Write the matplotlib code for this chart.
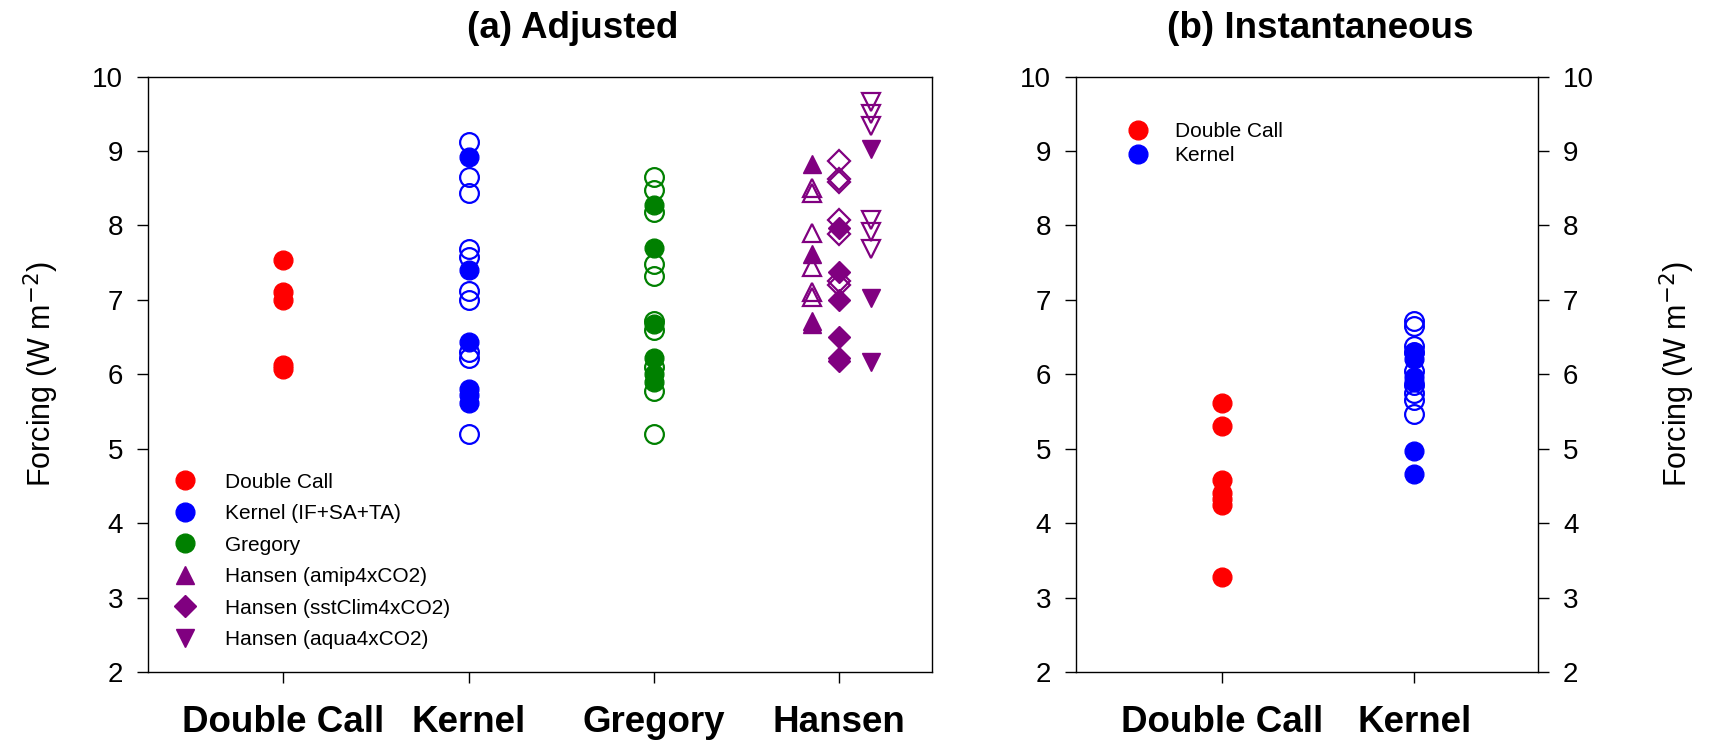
import matplotlib
matplotlib.use("Agg")
import matplotlib.pyplot as plt
from matplotlib.lines import Line2D
from matplotlib import font_manager

# forcing values (W m-2); filled and open markers kept apart
dc_adj = [7.53, 7.10, 7.00, 6.12, 6.07]

kernel_filled = [8.92, 7.40, 6.43, 5.80, 5.72, 5.62]
kernel_open = [9.12, 8.65, 8.43, 7.69, 7.58, 7.12, 7.00, 6.30, 6.22, 5.20]

gregory_filled = [8.28, 7.70, 6.67, 6.22, 6.00, 5.90]
gregory_open = [8.65, 8.48, 8.18, 7.48, 7.32, 6.72, 6.60, 6.10, 5.78, 5.20]

amip_filled = [8.83, 7.62, 6.72, 6.67]
amip_open = [8.50, 8.43, 7.90, 7.44, 7.10, 7.04]

sstclim_filled = [7.97, 7.37, 7.00, 6.50, 6.22, 6.18]
sstclim_open = [8.86, 8.62, 8.59, 8.07, 7.88, 7.25, 7.20]

aqua_filled = [9.03, 7.02, 6.17]
aqua_open = [9.66, 9.50, 9.34, 8.07, 7.91, 7.68]

dc_inst = [5.61, 5.30, 4.58, 4.40, 4.32, 4.25, 3.28]
kernel_inst_filled = [6.28, 6.20, 5.97, 5.90, 4.97, 4.66]
kernel_inst_open = [6.72, 6.65, 6.38, 6.30, 6.05, 5.85, 5.75, 5.65, 5.47]

cats_a = ["Double Call", "Kernel", "Gregory", "Hansen"]
cats_b = ["Double Call", "Kernel"]

RED, BLUE, GREEN, PURPLE = "#ff0000", "#0000ff", "#008000", "#800080"

plt.rcParams['font.family'] = ['Liberation Sans', 'DejaVu Sans']
avail = {f.name for f in font_manager.fontManager.ttflist}
if 'Liberation Sans Narrow' in avail:
    bold_fam, bsize = ['Liberation Sans Narrow', 'Liberation Sans'], 30
else:
    bold_fam, bsize = ['Liberation Sans'], 26.5

fig = plt.figure(figsize=(17.17, 7.42), dpi=100)
ax1 = fig.add_axes([0.0862, 0.0943, 0.4566, 0.8025])
ax2 = fig.add_axes([0.6267, 0.0943, 0.2690, 0.8025])

MS = 13.5


def pts(ax, x, ys, marker, color, filled, ms):
    if filled:
        ax.plot([x] * len(ys), ys, linestyle='none', marker=marker, ms=ms,
                mfc=color, mec=color, mew=1.0)
    else:
        ax.plot([x] * len(ys), ys, linestyle='none', marker=marker, ms=ms,
                mfc='none', mec=color, mew=1.6)


# panel a
pts(ax1, 1, dc_adj, 'o', RED, True, MS)
pts(ax1, 2, kernel_open, 'o', BLUE, False, MS)
pts(ax1, 2, kernel_filled, 'o', BLUE, True, MS)
pts(ax1, 3, gregory_open, 'o', GREEN, False, MS)
pts(ax1, 3, gregory_filled, 'o', GREEN, True, MS)
pts(ax1, 3.85, amip_open, '^', PURPLE, False, 13.5)
pts(ax1, 3.85, amip_filled, '^', PURPLE, True, 13.5)
pts(ax1, 4.0, sstclim_open, 'D', PURPLE, False, 11)
pts(ax1, 4.0, sstclim_filled, 'D', PURPLE, True, 11)
pts(ax1, 4.17, aqua_open, 'v', PURPLE, False, 13.5)
pts(ax1, 4.17, aqua_filled, 'v', PURPLE, True, 13.5)

ax1.set_xlim(0.27, 4.5)
ax1.set_xticks(range(1, 5))
ax1.set_xticklabels(cats_a)

# panel b
pts(ax2, 1, dc_inst, 'o', RED, True, MS)
pts(ax2, 2, kernel_inst_open, 'o', BLUE, False, MS)
pts(ax2, 2, kernel_inst_filled, 'o', BLUE, True, MS)
ax2.set_xlim(0.245, 2.64)
ax2.set_xticks([1, 2])
ax2.set_xticklabels(cats_b)
ax2.tick_params(axis='y', which='both', right=True, labelright=True)
ax2.yaxis.set_label_position('right')

for ax in (ax1, ax2):
    ax.set_ylim(2, 10)
    ax.set_yticks(range(2, 11))
    ax.tick_params(axis='y', direction='out', length=8, width=1, labelsize=20, pad=10)
    ax.tick_params(axis='x', direction='out', length=8, width=1, pad=16)
    for lab in ax.get_xticklabels():
        lab.set_family(bold_fam)
        lab.set_fontweight('bold')
        lab.set_fontsize(bsize)
    for s in ax.spines.values():
        s.set_linewidth(1.0)
    ax.set_ylabel("Forcing (W m$^{-2}$)", fontsize=22)

ax1.yaxis.labelpad = 22
ax2.yaxis.labelpad = 46

# legends
h_a = [
    Line2D([], [], ls='none', marker='o', ms=MS, color=RED, label="Double Call"),
    Line2D([], [], ls='none', marker='o', ms=MS, color=BLUE, label="Kernel (IF+SA+TA)"),
    Line2D([], [], ls='none', marker='o', ms=MS, color=GREEN, label="Gregory"),
    Line2D([], [], ls='none', marker='^', ms=13.5, color=PURPLE, label="Hansen (amip4xCO2)"),
    Line2D([], [], ls='none', marker='D', ms=11, color=PURPLE, label="Hansen (sstClim4xCO2)"),
    Line2D([], [], ls='none', marker='v', ms=13.5, color=PURPLE, label="Hansen (aqua4xCO2)"),
]
ax1.legend(handles=h_a, loc='lower left', bbox_to_anchor=(0.003, 0.007), frameon=False,
           fontsize=15, labelspacing=0.6, handletextpad=1.2, handlelength=1.5)

h_b = [
    Line2D([], [], ls='none', marker='o', ms=MS, color=RED, label="Double Call"),
    Line2D([], [], ls='none', marker='o', ms=MS, color=BLUE, label="Kernel"),
]
ax2.legend(handles=h_b, loc='upper left', bbox_to_anchor=(0.06, 0.955), frameon=False,
           fontsize=15, labelspacing=0.25, handletextpad=1.0, handlelength=1.5)

fig.text(0.3337, 0.962, "(a) Adjusted", ha='center', va='center',
         family=bold_fam, fontweight='bold', fontsize=bsize)
fig.text(0.769, 0.962, "(b) Instantaneous", ha='center', va='center',
         family=bold_fam, fontweight='bold', fontsize=bsize)

fig.savefig("out.png", dpi=100)
